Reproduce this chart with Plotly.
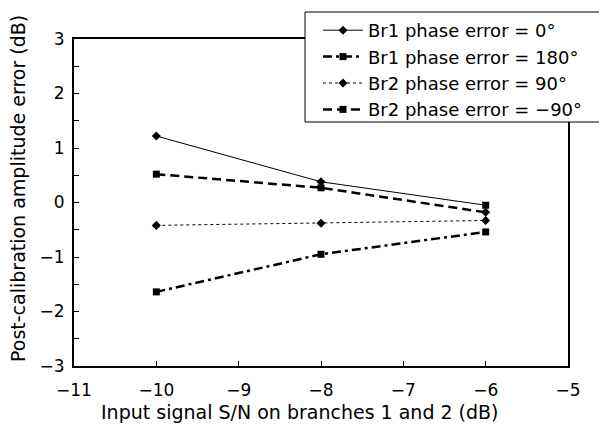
import plotly.graph_objects as go

snr = [-10, -8, -6]
names = ["Br1 phase error = 0°", "Br1 phase error = 180°",
         "Br2 phase error = 90°", "Br2 phase error = −90°"]
br1_0 = [1.22, 0.38, -0.05]
br1_180 = [-1.64, -0.95, -0.54]
br2_90 = [-0.42, -0.38, -0.33]
br2_m90 = [0.52, 0.27, -0.18]
x_title = "Input signal S/N on branches 1 and 2 (dB)"
y_title = "Post-calibration amplitude error (dB)"

styles = [
    dict(dash="solid", width=1, symbol=["diamond", "diamond", "square"]),
    dict(dash="9px,4px,3px,4px", width=2.5, symbol="square"),
    dict(dash="3px,3px", width=1, symbol="diamond"),
    dict(dash="9px,5px", width=2.5, symbol=["square", "square", "diamond"]),
]
series = [br1_0, br1_180, br2_90, br2_m90]

fig = go.Figure()
for name, ys, st in zip(names, series, styles):
    fig.add_trace(go.Scatter(
        x=snr, y=ys, name=name, mode="lines+markers",
        line=dict(color="black", width=st["width"], dash=st["dash"]),
        marker=dict(color="black", symbol=st["symbol"], size=7, opacity=1,
                    line=dict(width=0, color="black")),
    ))

font = "DejaVu Sans, sans-serif"
L, R, T, B = 74, 568, 39, 366
W, H = R - L, B - T
fig.add_shape(type="rect", xref="paper", yref="paper",
              x0=(305 - L) / W, x1=(610 - L) / W,
              y0=(B - 122) / H, y1=(B - 12) / H,
              fillcolor="white", line=dict(color="black", width=1), layer="above")
fig.add_annotation(text=x_title, xref="paper", yref="paper",
                   x=(300 - L) / W, y=(B - 412) / H, xanchor="center", yanchor="middle",
                   showarrow=False, font=dict(size=19, family=font))
fig.add_annotation(text=y_title, xref="paper", yref="paper", textangle=-90,
                   x=(18 - L) / W, y=(B - 189) / H, xanchor="center", yanchor="middle",
                   showarrow=False, font=dict(size=19, family=font))
fig.update_layout(
    width=599, height=426,
    margin=dict(l=L, r=599 - R, t=T, b=426 - B, autoexpand=False),
    paper_bgcolor="white", plot_bgcolor="white",
    font=dict(family=font, size=16, color="black"),
    showlegend=True,
    legend=dict(x=(318 - L) / W, y=(B - 12) / H, xanchor="left", yanchor="top",
                bgcolor="rgba(0,0,0,0)", borderwidth=0,
                font=dict(size=18, family=font), tracegroupgap=0,
                itemwidth=40),
    xaxis=dict(range=[-11, -5], dtick=1, tick0=-11, showgrid=False, zeroline=False,
               showline=True, linecolor="black", linewidth=2, mirror=True,
               ticks="inside", ticklen=5, tickwidth=1, tickcolor="black",
               tickfont=dict(size=17), automargin=False, ticklabelstandoff=8),
    yaxis=dict(range=[-3, 3], dtick=1, showgrid=False, zeroline=False,
               showline=True, linecolor="black", linewidth=2, mirror=True,
               ticks="inside", ticklen=5, tickwidth=1, tickcolor="black",
               tickfont=dict(size=17), automargin=False, ticklabelstandoff=4,
               minor=dict(dtick=0.5, ticks="inside", ticklen=5, tickwidth=1, tickcolor="black", showgrid=False)),
)
fig.write_html("out.html")
